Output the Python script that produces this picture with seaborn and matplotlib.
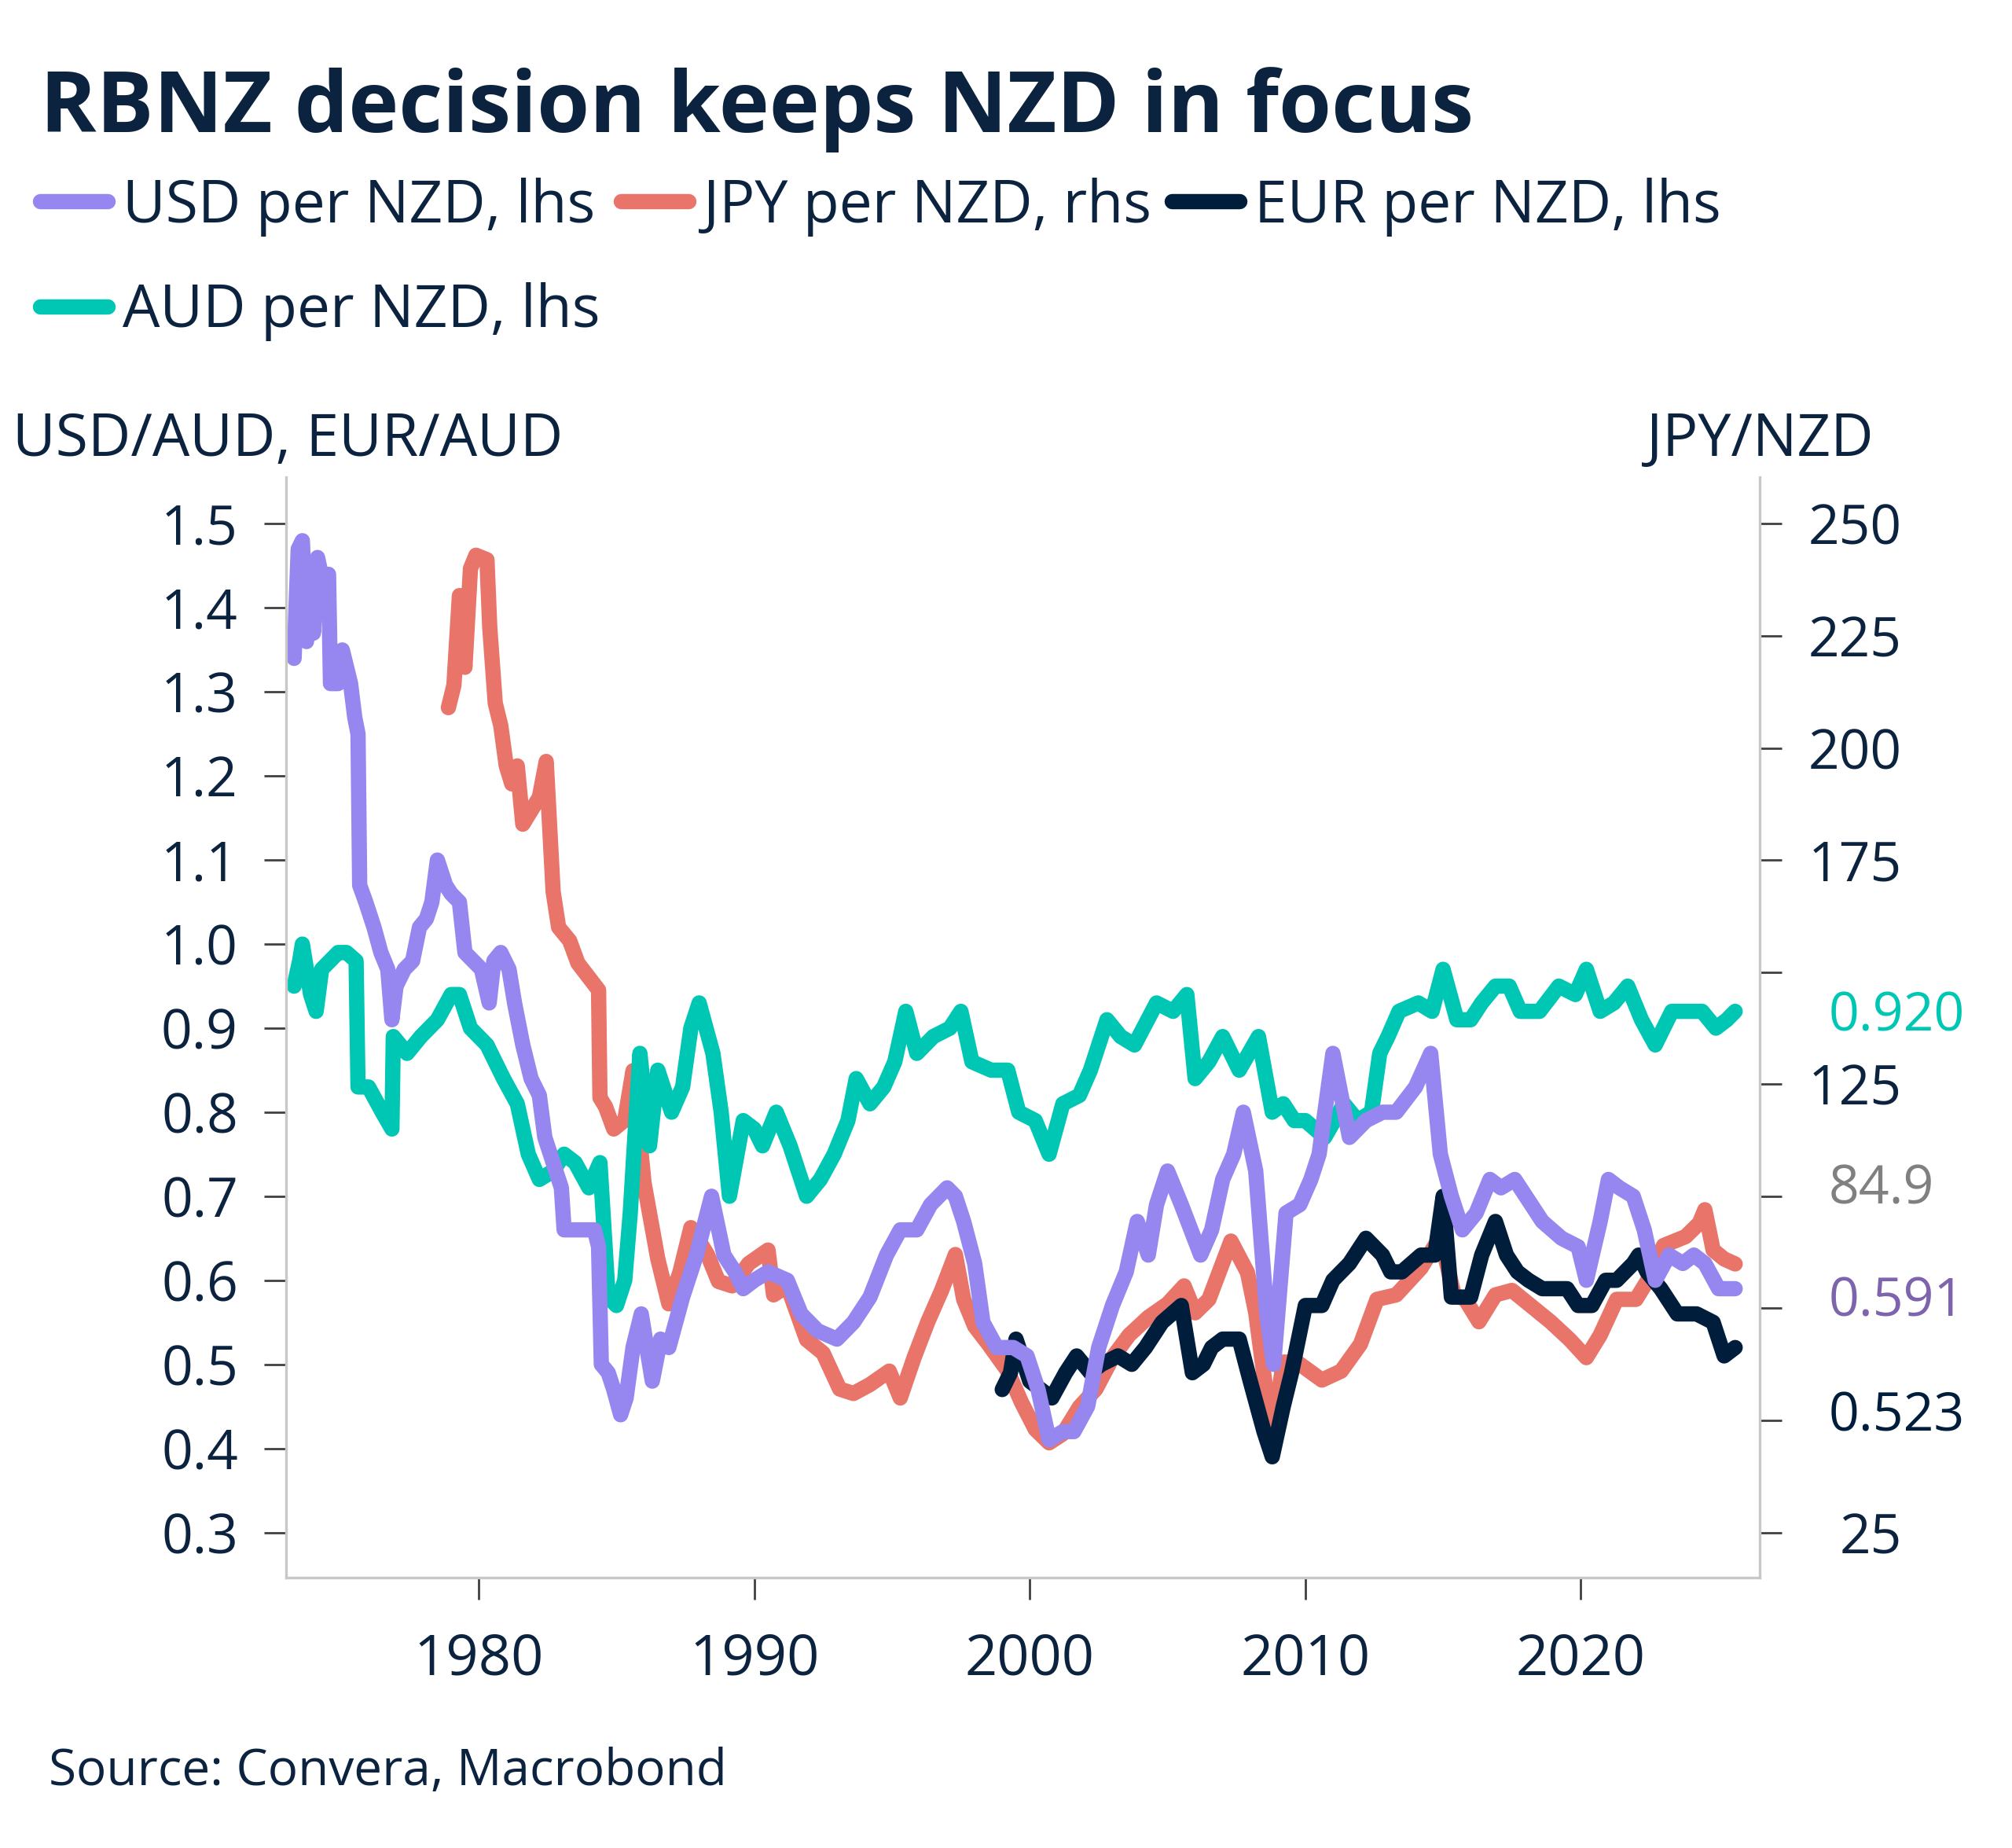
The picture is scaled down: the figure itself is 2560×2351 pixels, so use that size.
import matplotlib
matplotlib.use("Agg")
import matplotlib.pyplot as plt
import matplotlib.transforms as mtransforms
import pandas as pd
import seaborn as sns

# values (decimal years)
USD_YEARS = [1973.30, 1973.45, 1973.60, 1973.75, 1973.85, 1974.00, 1974.15, 1974.35, 1974.55, 1974.62,
             1974.90, 1975.05, 1975.20, 1975.35, 1975.50, 1975.62, 1975.68, 1975.90, 1976.20, 1976.45,
             1976.70, 1976.85, 1977.00, 1977.30, 1977.60, 1977.85, 1978.10, 1978.30, 1978.50, 1978.80,
             1979.00, 1979.30, 1979.50, 1979.80, 1980.10, 1980.38, 1980.55, 1980.80, 1981.10, 1981.30,
             1981.60, 1981.90, 1982.20, 1982.40, 1982.70, 1983.00, 1983.10, 1983.50, 1983.90, 1984.20,
             1984.35, 1984.45, 1984.70, 1984.90, 1985.15, 1985.35, 1985.60, 1985.90, 1986.30, 1986.60,
             1986.90, 1987.40, 1987.90, 1988.45, 1988.90, 1989.30, 1989.60, 1990.00, 1990.50, 1991.20,
             1991.70, 1992.30, 1993.00, 1993.60, 1994.20, 1994.80, 1995.30, 1995.90, 1996.40, 1997.00,
             1997.30, 1997.60, 1998.00, 1998.30, 1998.80, 1999.40, 1999.90, 2000.30, 2000.70, 2001.20,
             2001.60, 2002.10, 2002.50, 2003.00, 2003.50, 2003.90, 2004.30, 2004.60, 2005.00, 2005.50,
             2006.20, 2006.60, 2007.00, 2007.40, 2007.75, 2008.20, 2008.60, 2008.85, 2009.30, 2009.80,
             2010.20, 2010.50, 2011.00, 2011.60, 2012.20, 2012.80, 2013.30, 2014.00, 2014.55, 2014.90,
             2015.30, 2015.70, 2016.20, 2016.70, 2017.10, 2017.60, 2018.00, 2018.60, 2019.30, 2019.90,
             2020.20, 2020.70, 2021.00, 2021.40, 2021.90, 2022.30, 2022.70, 2023.20, 2023.70, 2024.10,
             2024.50, 2025.00, 2025.60]
USD_VALUES = [1.34, 1.47, 1.48, 1.36, 1.45, 1.37, 1.46, 1.43, 1.44, 1.31,
              1.31, 1.35, 1.33, 1.31, 1.27, 1.25, 1.07, 1.05, 1.02, 0.99,
              0.97, 0.91, 0.95, 0.97, 0.98, 1.02, 1.03, 1.05, 1.10, 1.07,
              1.06, 1.05, 0.99, 0.98, 0.97, 0.93, 0.98, 0.99, 0.97, 0.93,
              0.88, 0.84, 0.82, 0.77, 0.74, 0.71, 0.66, 0.66, 0.66, 0.66,
              0.64, 0.50, 0.49, 0.47, 0.44, 0.46, 0.52, 0.56, 0.48, 0.53,
              0.52, 0.58, 0.63, 0.70, 0.63, 0.61, 0.59, 0.60, 0.61, 0.60,
              0.56, 0.54, 0.53, 0.55, 0.58, 0.63, 0.66, 0.66, 0.69, 0.71,
              0.70, 0.67, 0.62, 0.55, 0.52, 0.52, 0.51, 0.47, 0.41, 0.42,
              0.42, 0.45, 0.52, 0.57, 0.61, 0.67, 0.63, 0.69, 0.73, 0.69,
              0.63, 0.66, 0.72, 0.75, 0.80, 0.73, 0.56, 0.50, 0.68, 0.69,
              0.72, 0.75, 0.87, 0.77, 0.79, 0.80, 0.80, 0.83, 0.87, 0.75,
              0.70, 0.66, 0.68, 0.72, 0.71, 0.72, 0.70, 0.67, 0.65, 0.64,
              0.60, 0.67, 0.72, 0.71, 0.70, 0.66, 0.60, 0.63, 0.62, 0.63,
              0.62, 0.59, 0.59]

JPY_YEARS = [1978.90, 1979.10, 1979.30, 1979.50, 1979.70, 1979.90, 1980.30, 1980.40, 1980.60, 1980.80,
             1981.00, 1981.20, 1981.40, 1981.60, 1981.90, 1982.20, 1982.45, 1982.70, 1982.90, 1983.30,
             1983.60, 1984.10, 1984.35, 1984.40, 1984.60, 1984.90, 1985.30, 1985.60, 1986.00, 1986.50,
             1986.90, 1987.30, 1987.70, 1988.30, 1988.70, 1989.20, 1989.80, 1990.50, 1990.70, 1991.20,
             1991.90, 1992.50, 1993.10, 1993.60, 1994.20, 1994.90, 1995.30, 1995.80, 1996.30, 1996.80,
             1997.30, 1997.60, 1998.00, 1998.50, 1999.20, 1999.70, 2000.20, 2000.70, 2001.20, 2001.80,
             2002.40, 2003.00, 2003.60, 2004.30, 2005.00, 2005.60, 2006.00, 2006.50, 2007.30, 2007.90,
             2008.20, 2008.80, 2009.20, 2009.70, 2010.60, 2011.30, 2012.00, 2012.60, 2013.30, 2014.20,
             2014.90, 2015.40, 2015.80, 2016.30, 2016.90, 2017.50, 2018.30, 2018.90, 2019.60, 2020.20,
             2020.70, 2021.30, 2022.00, 2022.40, 2023.00, 2023.80, 2024.30, 2024.50, 2024.80, 2025.20,
             2025.60]
JPY_VALUES = [209, 214, 234, 218, 240, 243, 242, 227, 210, 205,
              196, 192, 196, 183, 186, 189, 197, 168, 160, 157,
              152, 148, 146, 122, 120, 115, 117, 128, 103, 86,
              76, 83, 93, 87, 81, 80, 85, 88, 78, 80,
              68, 65, 57, 56, 58, 61, 55, 64, 72, 79,
              87, 77, 71, 67, 61, 54, 48, 45, 47, 53,
              57, 64, 69, 73, 76, 80, 74, 77, 90, 83,
              74, 46, 63, 63, 59, 61, 67, 77, 78, 84,
              91, 78, 77, 72, 78, 79, 75, 72, 68, 64,
              69, 77, 77, 81, 89, 91, 94, 97, 88, 86,
              84.9]

EUR_YEARS = [1999.00, 1999.30, 1999.50, 1999.70, 2000.00, 2000.40, 2000.80, 2001.30, 2001.70, 2002.20,
             2002.60, 2003.20, 2003.70, 2004.20, 2004.80, 2005.50, 2005.90, 2006.30, 2006.60, 2007.00,
             2007.60, 2008.00, 2008.50, 2008.80, 2009.20, 2009.50, 2010.00, 2010.60, 2011.00, 2011.60,
             2012.20, 2012.80, 2013.10, 2013.50, 2014.20, 2014.70, 2015.00, 2015.30, 2016.00, 2016.40,
             2016.90, 2017.30, 2017.70, 2018.10, 2018.60, 2019.50, 2019.90, 2020.40, 2020.90, 2021.30,
             2021.90, 2022.10, 2022.40, 2022.90, 2023.50, 2024.20, 2024.80, 2025.20, 2025.60]
EUR_VALUES = [0.47, 0.49, 0.53, 0.51, 0.48, 0.47, 0.46, 0.49, 0.51, 0.49,
              0.50, 0.51, 0.50, 0.52, 0.55, 0.57, 0.49, 0.50, 0.52, 0.53,
              0.53, 0.48, 0.42, 0.39, 0.45, 0.49, 0.57, 0.57, 0.60, 0.62,
              0.65, 0.63, 0.61, 0.61, 0.63, 0.63, 0.70, 0.58, 0.58, 0.63,
              0.67, 0.63, 0.61, 0.60, 0.59, 0.59, 0.57, 0.57, 0.60, 0.60,
              0.62, 0.63, 0.61, 0.59, 0.56, 0.56, 0.55, 0.51, 0.52]

AUD_YEARS = [1973.30, 1973.50, 1973.60, 1973.90, 1974.10, 1974.30, 1974.60, 1974.90, 1975.20, 1975.55,
             1975.62, 1976.00, 1976.50, 1976.85, 1976.90, 1977.40, 1977.90, 1978.50, 1979.00, 1979.30,
             1979.70, 1980.30, 1980.90, 1981.40, 1981.80, 1982.20, 1982.70, 1983.10, 1983.50, 1984.00,
             1984.40, 1984.70, 1985.00, 1985.30, 1985.50, 1985.85, 1986.20, 1986.50, 1987.00, 1987.40,
             1987.70, 1988.00, 1988.50, 1988.80, 1989.10, 1989.60, 1990.00, 1990.30, 1990.80, 1991.30,
             1991.90, 1992.40, 1992.90, 1993.40, 1993.70, 1994.20, 1994.70, 1995.10, 1995.50, 1995.90,
             1996.50, 1997.10, 1997.50, 1997.90, 1998.60, 1999.20, 1999.60, 2000.20, 2000.70, 2001.20,
             2001.80, 2002.20, 2002.80, 2003.30, 2003.80, 2004.60, 2005.20, 2005.70, 2006.00, 2006.50,
             2007.00, 2007.60, 2008.30, 2008.80, 2009.20, 2009.60, 2010.00, 2010.70, 2011.40, 2011.90,
             2012.40, 2012.70, 2013.00, 2013.40, 2014.10, 2014.60, 2015.00, 2015.50, 2016.00, 2016.40,
             2016.90, 2017.40, 2017.80, 2018.50, 2019.20, 2019.80, 2020.20, 2020.70, 2021.20, 2021.70,
             2022.20, 2022.70, 2023.30, 2023.80, 2024.40, 2024.90, 2025.30, 2025.60]
AUD_VALUES = [0.95, 0.98, 1.00, 0.94, 0.92, 0.97, 0.98, 0.99, 0.99, 0.98,
              0.83, 0.83, 0.80, 0.78, 0.89, 0.87, 0.89, 0.91, 0.94, 0.94,
              0.90, 0.88, 0.84, 0.81, 0.75, 0.72, 0.73, 0.75, 0.74, 0.71,
              0.74, 0.58, 0.57, 0.60, 0.68, 0.87, 0.76, 0.85, 0.80, 0.83,
              0.90, 0.93, 0.87, 0.80, 0.70, 0.79, 0.78, 0.76, 0.80, 0.76,
              0.70, 0.72, 0.75, 0.79, 0.84, 0.81, 0.83, 0.86, 0.92, 0.87,
              0.89, 0.90, 0.92, 0.86, 0.85, 0.85, 0.80, 0.79, 0.75, 0.81,
              0.82, 0.85, 0.91, 0.89, 0.88, 0.93, 0.92, 0.94, 0.84, 0.86,
              0.89, 0.85, 0.89, 0.80, 0.81, 0.79, 0.79, 0.77, 0.81, 0.79,
              0.80, 0.87, 0.89, 0.92, 0.93, 0.92, 0.97, 0.91, 0.91, 0.93,
              0.95, 0.95, 0.92, 0.92, 0.95, 0.94, 0.97, 0.92, 0.93, 0.95,
              0.91, 0.88, 0.92, 0.92, 0.92, 0.90, 0.91, 0.92]

LEFT_TICKS = [0.3, 0.4, 0.5, 0.6, 0.7, 0.8, 0.9, 1.0, 1.1, 1.2, 1.3, 1.4, 1.5]
LEFT_TICK_LABELS = ["0.3", "0.4", "0.5", "0.6", "0.7", "0.8", "0.9", "1.0", "1.1", "1.2", "1.3", "1.4", "1.5"]
RIGHT_TICKS = [25, 50, 75, 100, 125, 150, 175, 200, 225, 250]
RIGHT_TICK_LABELS = ["25", "", "", "", "125", "", "175", "200", "225", "250"]
YEAR_TICKS = [1980, 1990, 2000, 2010, 2020]

# last-value labels on the right: text, position on the left scale
END_LABELS = ["0.920", "84.9", "0.591", "0.523"]
END_LABEL_POS = [0.913, 0.708, 0.574, 0.437]

NAVY = "#0C2340"
USD_COLOR = "#9586F0"
JPY_COLOR = "#E8746A"
EUR_COLOR = "#001E3C"
AUD_COLOR = "#00C7B4"
END_LABEL_COLORS = [AUD_COLOR, "#808080", "#7D64AC", EUR_COLOR]
SPINE = "#C8C8C8"
TICK = "#404040"
LW = 7.0
FS = 25

sns.set_theme(style="white")
plt.rcParams["font.family"] = ["Open Sans", "DejaVu Sans"]

fig = plt.figure(figsize=(12.8, 11.755), dpi=200)
ax = fig.add_axes([0.1422, 0.1463, 0.7324, 0.5955])
ax2 = ax.twinx()
# left-axis series on top of the JPY line
ax.set_zorder(ax2.get_zorder() + 1)
ax.patch.set_visible(False)

usd = pd.DataFrame({"year": USD_YEARS, "value": USD_VALUES})
jpy = pd.DataFrame({"year": JPY_YEARS, "value": JPY_VALUES})
eur = pd.DataFrame({"year": EUR_YEARS, "value": EUR_VALUES})
aud = pd.DataFrame({"year": AUD_YEARS, "value": AUD_VALUES})

sns.lineplot(data=jpy, x="year", y="value", ax=ax2, color=JPY_COLOR, lw=LW, legend=False)
sns.lineplot(data=aud, x="year", y="value", ax=ax, color=AUD_COLOR, lw=LW, legend=False)
sns.lineplot(data=eur, x="year", y="value", ax=ax, color=EUR_COLOR, lw=LW, legend=False)
sns.lineplot(data=usd, x="year", y="value", ax=ax, color=USD_COLOR, lw=LW, legend=False)

ax.set_xlim(1973.01, 2026.49)
ax.set_ylim(0.2462, 1.5556)
ax2.set_ylim(14.92, 260.42)

ax.set_xlabel("")
ax.set_ylabel("")
ax2.set_ylabel("")

ax.set_xticks(YEAR_TICKS)
ax.set_xticklabels([str(y) for y in YEAR_TICKS])
ax.set_yticks(LEFT_TICKS)
ax.set_yticklabels(LEFT_TICK_LABELS)
ax2.set_yticks(RIGHT_TICKS)
ax2.set_yticklabels(RIGHT_TICK_LABELS)
for t in ax2.get_yticklabels():
    t.set_horizontalalignment("right")

ax.tick_params(axis="x", bottom=True, direction="out", length=10, width=1, color=TICK,
               pad=15, labelsize=26, labelcolor=NAVY)
ax.tick_params(axis="y", left=True, direction="out", length=10, width=1, color=TICK,
               pad=12, labelsize=FS, labelcolor=NAVY)
ax2.tick_params(axis="y", right=True, direction="out", length=10, width=1, color=TICK,
                pad=55, labelsize=FS, labelcolor=NAVY)

for a in (ax, ax2):
    for side in ("top", "left", "bottom", "right"):
        a.spines[side].set_visible(False)
for side in ("left", "bottom"):
    ax.spines[side].set_visible(True)
    ax.spines[side].set_color(SPINE)
    ax.spines[side].set_linewidth(1.2)
ax2.spines["right"].set_visible(True)
ax2.spines["right"].set_color(SPINE)
ax2.spines["right"].set_linewidth(1.2)

# last values beside the right axis
trans = mtransforms.blended_transform_factory(ax.transAxes, ax.transData)
for txt, pos, col in zip(END_LABELS, END_LABEL_POS, END_LABEL_COLORS):
    ax.text(1.0469, pos, txt, transform=trans, ha="left", va="center",
            fontsize=24.5, color=col, clip_on=False)

fig.text(0.0199, 0.9285, "RBNZ decision keeps NZD in focus", fontsize=39,
         fontweight="bold", color=NAVY, ha="left", va="baseline")

h_aud, h_eur, h_usd = ax.get_lines()[:3]
h_jpy = ax2.get_lines()[0]
leg = fig.legend([h_usd, h_aud, h_jpy, h_eur],
                 ["USD per NZD, lhs", "AUD per NZD, lhs", "JPY per NZD, rhs", "EUR per NZD, lhs"],
                 ncol=3, loc="upper left", bbox_to_anchor=(0.0199, 0.904), frameon=False,
                 fontsize=27, handlelength=1.15, handletextpad=0.25, columnspacing=0.35,
                 labelspacing=0.78, borderpad=0, borderaxespad=0)
for t in leg.get_texts():
    t.set_color(NAVY)

fig.text(0.00625, 0.7533, "USD/AUD, EUR/AUD", fontsize=27, color=NAVY, ha="left", va="baseline")
fig.text(0.93125, 0.7533, "JPY/NZD", fontsize=27, color=NAVY, ha="right", va="baseline")
fig.text(0.0242, 0.034, "Source: Convera, Macrobond", fontsize=23, color=NAVY, ha="left", va="baseline")

fig.savefig("out.png", dpi=200)
